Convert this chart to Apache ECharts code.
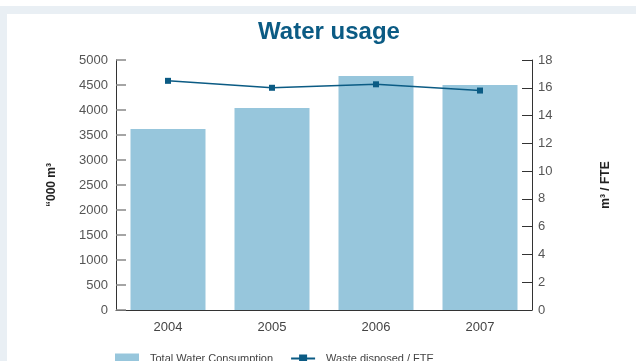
<!DOCTYPE html>
<html>
<head>
<meta charset="utf-8">
<script src="https://cdn.jsdelivr.net/npm/echarts@6/dist/echarts.min.js"></script>
<style>
  html, body { margin: 0; padding: 0; background: #ffffff; }
  #wrap { position: relative; width: 636px; height: 361px; overflow: hidden; }
  .band-top { position: absolute; left: 0; top: 6px; width: 636px; height: 8px; background: #e9eff4; }
  .band-left { position: absolute; left: 0; top: 6px; width: 7px; height: 355px; background: #e9eff4; }
  #chart { position: absolute; left: 0; top: 0; width: 636px; height: 361px; }
</style>
</head>
<body>
<div id="wrap">
  <div class="band-top"></div>
  <div class="band-left"></div>
  <div id="chart"></div>
</div>
<script>
// Water usage per year: total consumption ('000 m3) and per-FTE figure
const years = ['2004', '2005', '2006', '2007'];
const totalWater = [3620, 4040, 4680, 4500];
const perFte = [16.5, 16.0, 16.25, 15.8];
const leftTicks = { min: 0, max: 5000, step: 500 };
const rightTicks = { min: 0, max: 18, step: 2 };

const FONT = '"Liberation Sans", Arial, Helvetica, sans-serif';
const chart = echarts.init(document.getElementById('chart'), null, { renderer: 'canvas' });

chart.setOption({
  backgroundColor: 'transparent',
  animation: false,
  textStyle: { fontFamily: FONT },
  title: {
    text: 'Water usage',
    left: 324,
    textAlign: 'center',
    top: 15,
    textStyle: { fontFamily: FONT, fontSize: 24, fontWeight: 'bold', color: '#0b5b84' }
  },
  grid: { left: 116, right: 104, top: 60, bottom: 51, containLabel: false },
  legend: {
    left: 115,
    top: 353,
    padding: 0,
    itemWidth: 24,
    itemHeight: 10,
    itemGap: 17,
    textStyle: { fontFamily: FONT, fontSize: 11, color: '#444', padding: [0, 0, 0, 6] },
    data: [
      { name: 'Total Water Consumption', icon: 'rect' },
      { name: 'Waste disposed / FTE' }
    ]
  },
  xAxis: {
    type: 'category',
    data: years,
    axisLine: { lineStyle: { color: '#333', width: 1 } },
    axisTick: { show: false },
    axisLabel: { color: '#444', fontSize: 13, margin: 11, fontFamily: FONT }
  },
  yAxis: [
    {
      type: 'value',
      min: leftTicks.min,
      max: leftTicks.max,
      interval: leftTicks.step,
      name: '\u201C000 m\u00B3',
      nameLocation: 'middle',
      nameRotate: 90,
      nameGap: 58,
      nameTextStyle: { fontFamily: FONT, fontSize: 12, fontWeight: 'bold', color: '#222' },
      axisLine: { show: true, lineStyle: { color: '#333', width: 1 } },
      axisTick: { show: true, inside: true, length: 10, lineStyle: { color: '#888', width: 1.5 } },
      axisLabel: { color: '#555', fontSize: 13, margin: 8, fontFamily: FONT, formatter: v => String(v) },
      splitLine: { show: false }
    },
    {
      type: 'value',
      min: rightTicks.min,
      max: rightTicks.max,
      interval: rightTicks.step,
      name: 'm\u00B3 / FTE',
      nameLocation: 'middle',
      nameRotate: 90,
      nameGap: 68,
      nameTextStyle: { fontFamily: FONT, fontSize: 12, fontWeight: 'bold', color: '#222' },
      axisLine: { show: true, lineStyle: { color: '#333', width: 1 } },
      axisTick: { show: true, inside: true, length: 10, lineStyle: { color: '#333', width: 1 } },
      axisLabel: { color: '#555', fontSize: 13, margin: 6, fontFamily: FONT, formatter: v => String(v) },
      splitLine: { show: false }
    }
  ],
  series: [
    {
      name: 'Total Water Consumption',
      type: 'bar',
      yAxisIndex: 0,
      data: totalWater,
      barWidth: 75,
      itemStyle: { color: '#97c6dc' }
    },
    {
      name: 'Waste disposed / FTE',
      type: 'line',
      yAxisIndex: 1,
      data: perFte,
      symbol: 'rect',
      symbolSize: 6,
      lineStyle: { color: '#0b5b84', width: 1.5 },
      itemStyle: { color: '#0b5b84' }
    }
  ]
});
</script>
</body>
</html>
